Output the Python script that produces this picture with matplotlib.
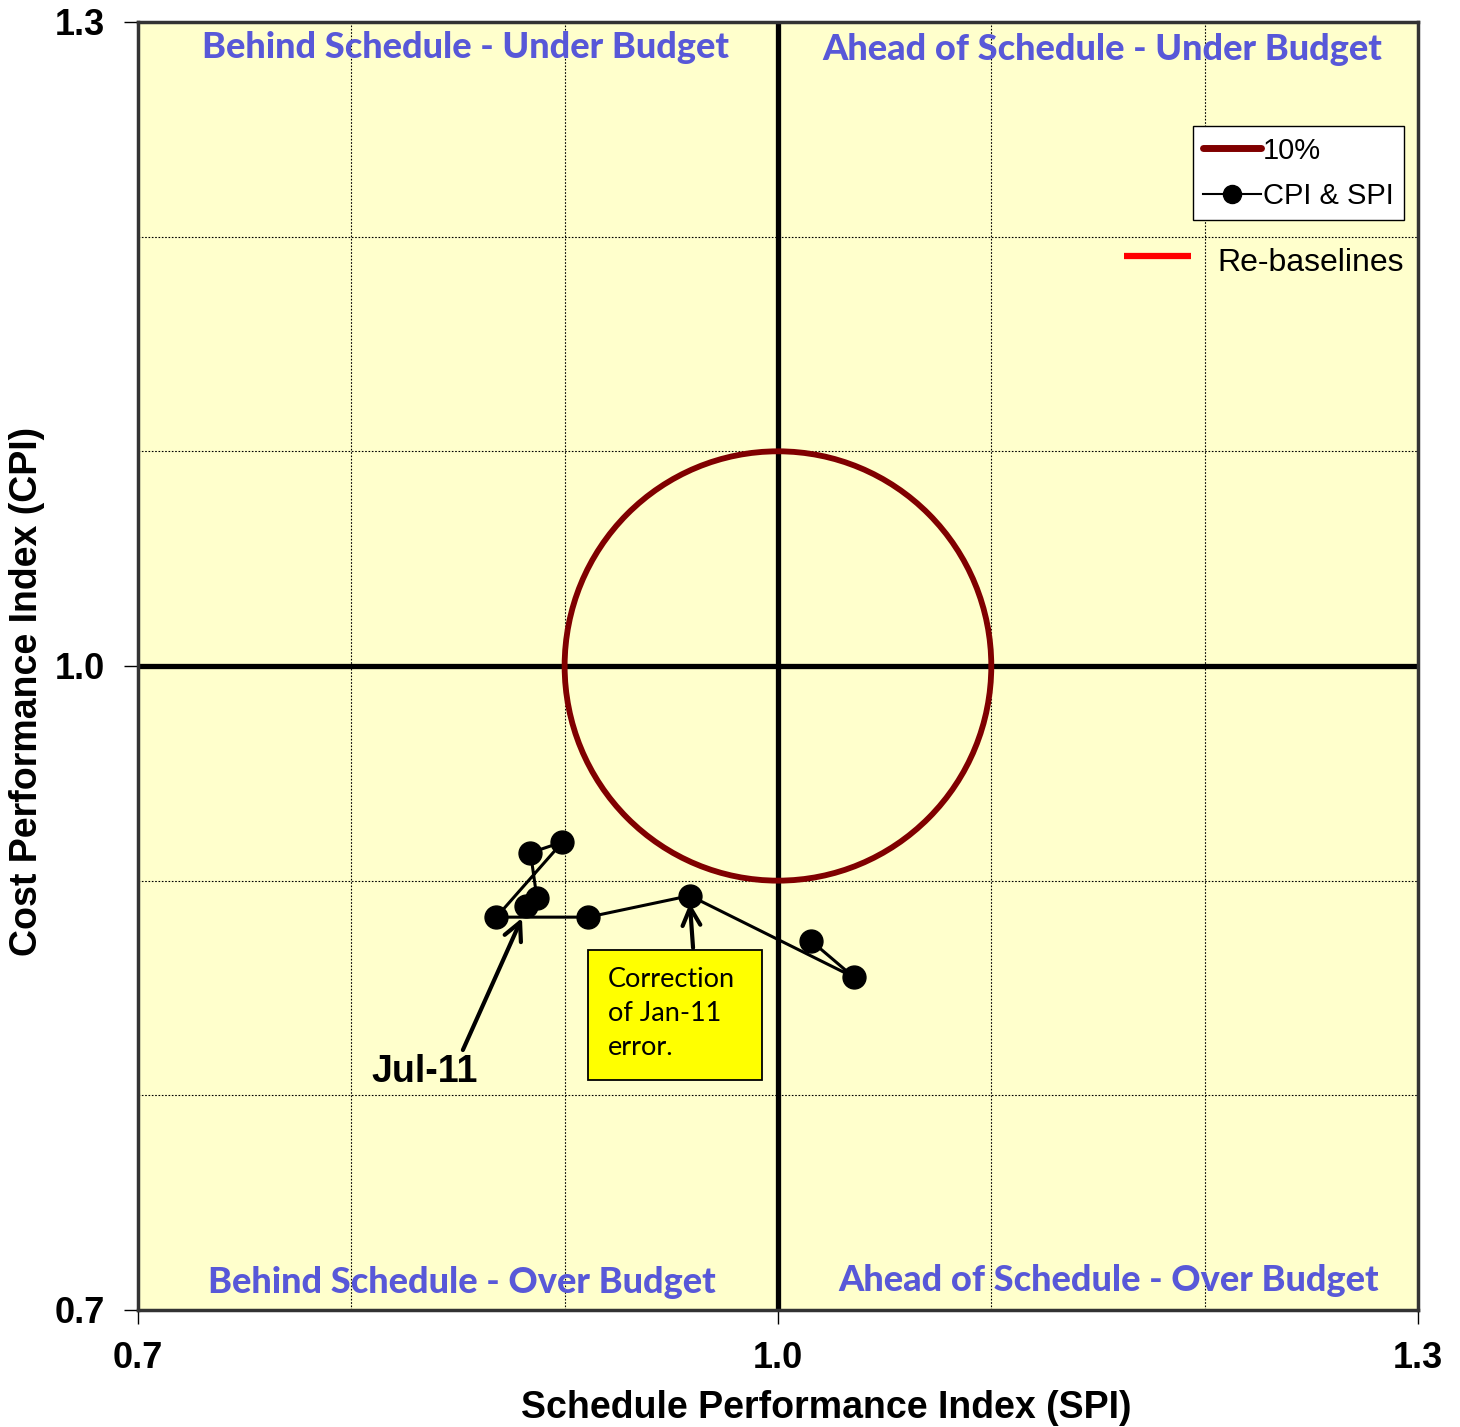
import matplotlib
matplotlib.use("Agg")
import matplotlib.pyplot as plt
from matplotlib.patches import Circle, Rectangle
from matplotlib.lines import Line2D

# Data (path order)
spi = [1.0155, 1.0356, 0.9587, 0.911, 0.868, 0.899, 0.884, 0.887, 0.882]
cpi = [0.872, 0.855, 0.893, 0.883, 0.883, 0.918, 0.913, 0.892, 0.888]
ticks = [0.7, 1.0, 1.3]
tick_labels = ["0.7", "1.0", "1.3"]
grid_vals = [0.8, 0.9, 1.1, 1.2]
circle_radius = 0.1
quadrants = ["Behind Schedule - Under Budget", "Ahead of Schedule - Under Budget",
             "Behind Schedule - Over Budget", "Ahead of Schedule - Over Budget"]

fig = plt.figure(figsize=(14.6, 14.27), dpi=100)
ax = fig.add_axes([0.0945, 0.0820, 0.8767, 0.9026])
ax.set_facecolor("#FFFFCC")
ax.set_xlim(0.7, 1.3)
ax.set_ylim(0.7, 1.3)

for g in grid_vals:
    ax.axvline(g, color="black", lw=0.8, ls=(0, (1.5, 1.5)), zorder=1)
    ax.axhline(g, color="black", lw=0.8, ls=(0, (1.5, 1.5)), zorder=1)
ax.axvline(1.0, color="black", lw=3.8, zorder=2)
ax.axhline(1.0, color="black", lw=3.8, zorder=2)

circ = Circle((1.0, 1.0), circle_radius, fill=False, ec="#800000", lw=4.2, zorder=3)
ax.add_patch(circ)

ax.plot(spi, cpi, color="black", lw=2.2, marker="o", ms=16.5, zorder=4)

ax.set_xticks(ticks)
ax.set_xticklabels(tick_labels)
ax.set_yticks(ticks)
ax.set_yticklabels(tick_labels)
ax.tick_params(axis="y", direction="out", length=10, width=1, labelsize=26, pad=14)
ax.tick_params(axis="x", direction="out", length=10, width=1, labelsize=26, pad=12)
for lab in ax.get_xticklabels() + ax.get_yticklabels():
    lab.set_fontweight("bold")
    lab.set_family("Liberation Sans")

for s in ax.spines.values():
    s.set_linewidth(2.5)
    s.set_color("#333333")

ax.set_xlabel("Schedule Performance Index (SPI)", fontsize=27, fontweight="bold",
              family="Liberation Sans", labelpad=8)
ax.xaxis.set_label_coords(0.5375, -0.062)
ax.set_ylabel("Cost Performance Index (CPI)", fontsize=27, fontweight="bold",
              family="Liberation Sans")
ax.yaxis.set_label_coords(-0.073, 0.48)

qcol = "#5858D8"
qpos = [(0.8533, 1.288), (1.152, 1.287), (0.852, 0.7127), (1.155, 0.7136)]
for t, (x, y) in zip(quadrants, qpos):
    ax.text(x, y, t, color=qcol, fontsize=26, fontweight="black", family="Lato",
            ha="center", va="center", zorder=5)

# Legend
h1 = Line2D([], [], color="#800000", lw=5, solid_capstyle="round")
h2 = Line2D([], [], color="black", lw=1.5, marker="o", ms=13)
leg = ax.legend([h1, h2], ["10%", "CPI & SPI"], loc="upper left",
                bbox_to_anchor=(0.824, 0.919), prop={"family": "Liberation Sans", "size": 21},
                frameon=True, fancybox=False, edgecolor="black", framealpha=1,
                handlelength=2.0, handletextpad=0.05, borderpad=0.35, labelspacing=0.6,
                borderaxespad=0)
leg.get_frame().set_linewidth(1)

ax.plot([0.770, 0.823], [0.818, 0.818], transform=ax.transAxes, color="red", lw=4.5,
        solid_capstyle="butt", zorder=5)
ax.text(0.843, 0.8129, "Re-baselines", transform=ax.transAxes, fontsize=23,
        family="Liberation Sans", va="center", ha="left", zorder=5)

# Correction annotation
ax.add_patch(Rectangle((0.9109, 0.8072), 0.9925 - 0.9109, 0.8677 - 0.8072,
                       fc="yellow", ec="black", lw=1.3, zorder=7))
ax.text(0.9203, 0.8380, "Correction\nof Jan-11\nerror.", fontsize=19.5, family="Lato",
        ha="left", va="center", linespacing=1.45, zorder=8)
ax.annotate("", xy=(spi[2], 0.8896), xytext=(0.9602, 0.8687),
            arrowprops=dict(arrowstyle="->", lw=3, color="black", mutation_scale=32,
                            shrinkA=0, shrinkB=0),
            zorder=6)

# Jul-11 annotation
ax.annotate("", xy=(0.8800, 0.8826), xytext=(0.8523, 0.8211),
            arrowprops=dict(arrowstyle="->", lw=3, color="black", mutation_scale=32,
                            shrinkA=0, shrinkB=0),
            zorder=6)
ax.text(0.8345, 0.8109, "Jul-11", fontsize=27, fontweight="bold", family="Liberation Sans",
        ha="center", va="center", zorder=6)

fig.savefig("out.png", dpi=100)
